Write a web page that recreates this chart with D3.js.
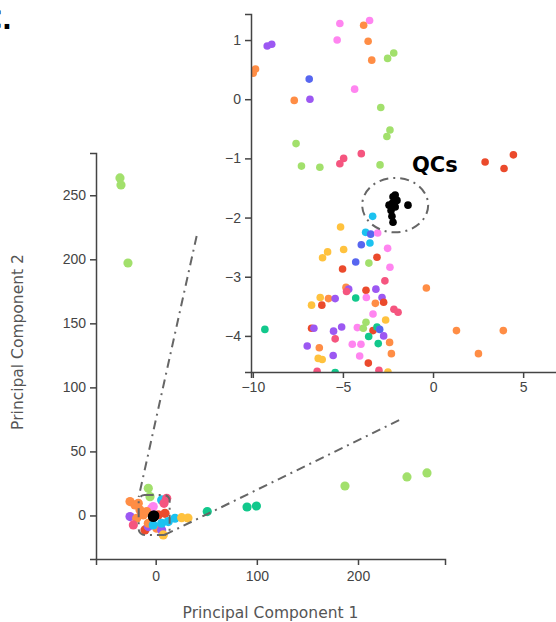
<!DOCTYPE html>
<html>
<head>
<meta charset="utf-8">
<script src="https://cdn.jsdelivr.net/npm/d3@7"></script>
<style>
  html, body { margin: 0; padding: 0; background: #fff; }
  svg { display: block; font-family: "DejaVu Sans", Verdana, sans-serif; }
  .axis path, .axis line { stroke: #444; stroke-width: 1.5; }
  .axis text { fill: #444; font-size: 14px; }
</style>
</head>
<body>
<div id="chart"></div>
<script>
// Group colours (sample groups) + QC
const groupColors = {
    orange: '#ff8d45',
    purple: '#9c58f2',
    pink: '#ff85f0',
    green: '#a2e06c',
    blue: '#5766f0',
    red: '#eb4a2c',
    pinkred: '#f5557f',
    teal: '#12c88c',
    cyan: '#1cc2f0',
    yellow: '#ffc23e',
    qc: '#000000'
};

// Main PCA plot: [PC1, PC2, group]
const mainPoints = [
    [-35.3, 263.5, 'green'], [-34.3, 258.0, 'green'], [-27.4, 197.1, 'green'],
    [-7.3, 21.2, 'green'], [-5.6, 14.7, 'green'],
    [-25.4, 10.8, 'orange'], [-20.5, 8.2, 'orange'], [-17.2, 9.5, 'orange'],
    [5.9, 12.1, 'cyan'], [10.9, 13.4, 'pinkred'], [8.2, 9.5, 'pinkred'],
    [-4.0, 5.6, 'pink'], [-2.4, 6.9, 'pink'],
    [-25.4, -0.9, 'purple'], [-15.5, 4.3, 'orange'], [-12.3, 0.4, 'orange'],
    [-18.8, -2.2, 'orange'], [-8.9, 3.0, 'orange'], [2.6, 0.4, 'red'], [9.2, 1.7, 'red'],
    [-22.1, -7.4, 'pinkred'], [-10.6, -11.3, 'red'], [-7.3, -8.7, 'purple'],
    [-7.3, -6.1, 'orange'], [1.0, -10.0, 'orange'], [5.9, -11.3, 'purple'],
    [-2.4, -7.4, 'cyan'], [5.9, -6.1, 'cyan'], [12.5, -4.8, 'cyan'], [19.1, -2.2, 'cyan'],
    [25.7, -1.7, 'yellow'], [31.9, -2.0, 'yellow'], [7.5, -15.2, 'yellow'],
    [51.0, 3.0, 'teal'], [90.3, 6.6, 'teal'], [99.6, 7.4, 'teal'],
    [187.1, 23.0, 'green'], [248.4, 30.1, 'green'], [268.2, 33.2, 'green']
];
const mainQC = [[-2.4, -0.9], [-1.8, -0.2]];

// Zoomed inset: [PC1, PC2, group]
const insetPoints = [
    [-9.98, 0.44, 'orange'], [-9.85, 0.51, 'orange'], [-9.2, 0.9, 'purple'], [-8.95, 0.93, 'purple'],
    [-5.17, 1.28, 'pink'], [-3.52, 1.33, 'pink'], [-3.85, 1.25, 'orange'], [-5.32, 1.0, 'pink'],
    [-3.6, 0.98, 'orange'], [-3.4, 0.66, 'orange'], [-2.52, 0.69, 'green'], [-2.18, 0.78, 'green'],
    [-6.87, 0.34, 'blue'], [-6.83, 0.0, 'purple'], [-7.7, -0.02, 'orange'], [-4.35, 0.17, 'pink'],
    [-2.9, -0.14, 'green'], [-2.39, -0.52, 'green'], [-2.56, -0.63, 'green'], [-7.6, -0.75, 'green'],
    [-7.3, -1.13, 'green'], [-6.28, -1.15, 'green'], [-4.96, -1.0, 'pinkred'], [-5.17, -1.09, 'pinkred'],
    [-3.98, -0.92, 'pinkred'], [-2.94, -1.11, 'green'],
    [2.89, -1.06, 'red'], [3.94, -1.17, 'red'], [4.46, -0.94, 'red'],
    [-3.35, -1.98, 'cyan'], [-5.13, -2.16, 'yellow'], [-3.74, -2.25, 'cyan'], [-3.5, -2.43, 'cyan'],
    [-3.46, -2.28, 'blue'], [-3.07, -2.26, 'pink'], [-3.98, -2.46, 'blue'], [-2.52, -2.52, 'pink'],
    [-4.96, -2.54, 'yellow'], [-5.85, -2.58, 'yellow'], [-6.13, -2.68, 'yellow'], [-4.29, -2.75, 'blue'],
    [-3.56, -2.77, 'green'], [-3.11, -2.67, 'red'], [-2.39, -2.84, 'pink'], [-5.02, -2.87, 'red'],
    [-2.67, -3.07, 'pinkred'], [-4.83, -3.18, 'orange'], [-4.68, -3.21, 'purple'], [-4.8, -3.25, 'pinkred'],
    [-3.72, -3.23, 'red'], [-3.17, -3.21, 'purple'], [-0.37, -3.19, 'orange'],
    [-6.26, -3.35, 'yellow'], [-5.8, -3.37, 'orange'], [-5.43, -3.37, 'purple'], [-4.29, -3.36, 'teal'],
    [-3.7, -3.35, 'pink'], [-2.83, -3.35, 'purple'], [-2.74, -3.43, 'red'], [-3.2, -3.45, 'orange'],
    [-6.74, -3.48, 'yellow'], [-6.17, -3.48, 'red'], [-3.33, -3.63, 'pink'],
    [-2.17, -3.55, 'pinkred'], [-1.94, -3.6, 'pinkred'], [-3.72, -3.77, 'green'], [-2.63, -3.73, 'yellow'],
    [-6.74, -3.87, 'red'], [-6.61, -3.87, 'purple'], [-9.33, -3.89, 'teal'], [-5.52, -3.92, 'purple'],
    [-5.07, -3.85, 'purple'], [-4.2, -3.86, 'pink'], [-3.87, -3.87, 'green'], [-3.33, -3.91, 'red'],
    [-3.11, -3.85, 'teal'], [-2.96, -3.89, 'blue'], [1.3, -3.91, 'orange'], [3.9, -3.91, 'orange'],
    [-2.74, -4.0, 'purple'], [-3.57, -4.01, 'teal'], [-5.43, -4.05, 'pinkred'], [-6.98, -4.17, 'purple'],
    [-6.31, -4.2, 'orange'], [-4.48, -4.14, 'pink'], [-4.0, -4.14, 'pink'], [-3.04, -4.13, 'teal'],
    [-2.41, -4.11, 'orange'], [-2.31, -4.3, 'orange'], [2.52, -4.3, 'orange'], [-5.54, -4.33, 'purple'],
    [-6.37, -4.38, 'yellow'], [-6.15, -4.4, 'yellow'], [-4.07, -4.34, 'pink'], [-3.59, -4.46, 'red'],
    [-6.43, -4.6, 'pinkred'], [-5.43, -4.62, 'teal'], [-3.0, -4.58, 'pinkred'], [-2.5, -4.61, 'yellow']
];
const insetQC = [
    [-2.1, -1.62], [-2.0, -1.71], [-2.22, -1.65], [-2.26, -1.76], [-2.44, -1.79], [-2.1, -1.82],
    [-2.33, -1.88], [-2.28, -1.98], [-2.22, -2.08], [-1.39, -1.79]
];

// Ticks
const mainXTicks = [0, 100, 200];
const mainYTicks = [0, 50, 100, 150, 200, 250];
const insetXTicks = [-10, -5, 0, 5];
const insetYTicks = [-4, -3, -2, -1, 0, 1];

// Zoom call-out path (main data units) and QC ellipse (inset data units)
const calloutLeft = [[40.5, 218.2], [-16.8, 14.4]];
const calloutBox = [[-16.8, 16.0], [13.8, -15.2]];
const calloutRight = [[8.9, -15.2], [241.2, 74.6]];
const qcEllipse = { cx: -2.1, cy: -1.79, rx: 1.83, ry: 0.46 };

const W = 556, H = 622;
const svg = d3.select('#chart').append('svg').attr('width', W).attr('height', H);
const intFmt = d3.format('d');

// Panel label (cut at left edge, as in the figure)
svg.append('text')
    .attr('x', 12).attr('y', 29)
    .attr('text-anchor', 'end')
    .style('font-size', '26px').style('font-weight', 'bold').style('fill', '#000')
    .text('C.');

// ---------- Main plot ----------
const x = d3.scaleLinear().domain([-59, 286]).range([96, 445]);
const y = d3.scaleLinear().domain([-34, 283]).range([559, 153]);

svg.append('g')
    .attr('class', 'axis')
    .attr('transform', `translate(0,${y.range()[0]})`)
    .call(d3.axisBottom(x).tickValues(mainXTicks).tickFormat(intFmt).tickSizeOuter(0).tickSize(6).tickPadding(6));

svg.append('g')
    .attr('class', 'axis')
    .attr('transform', `translate(${x.range()[0]},0)`)
    .call(d3.axisLeft(y).tickValues(mainYTicks).tickFormat(intFmt).tickSizeOuter(0).tickSize(6).tickPadding(4));

svg.append('text')
    .attr('x', (x.range()[0] + x.range()[1]) / 2).attr('y', 618)
    .attr('text-anchor', 'middle')
    .style('font-size', '15.5px').style('fill', '#555')
    .text('Principal Component 1');

svg.append('text')
    .attr('transform', `translate(23,${(y.range()[0] + y.range()[1]) / 2 - 14}) rotate(-90)`)
    .attr('text-anchor', 'middle')
    .style('font-size', '15.5px').style('fill', '#555')
    .text('Principal Component 2');

svg.append('g').selectAll('circle')
    .data(mainPoints)
    .join('circle')
    .attr('cx', d => x(d[0]))
    .attr('cy', d => y(d[1]))
    .attr('r', 4.6)
    .attr('fill', d => groupColors[d[2]]);

const dashStyle = sel => sel
    .attr('fill', 'none')
    .attr('stroke', '#666')
    .attr('stroke-width', 2)
    .attr('stroke-dasharray', '9,5,2,5');

const lineGen = d3.line().x(d => x(d[0])).y(d => y(d[1]));
svg.append('path').attr('d', lineGen(calloutLeft)).call(dashStyle);
svg.append('path').attr('d', lineGen(calloutRight)).call(dashStyle);
svg.append('rect')
    .attr('x', x(calloutBox[0][0])).attr('y', y(calloutBox[0][1]))
    .attr('width', x(calloutBox[1][0]) - x(calloutBox[0][0]))
    .attr('height', y(calloutBox[1][1]) - y(calloutBox[0][1]))
    .attr('rx', 6)
    .call(dashStyle);

svg.append('g').selectAll('circle')
    .data(mainQC)
    .join('circle')
    .attr('cx', d => x(d[0]))
    .attr('cy', d => y(d[1]))
    .attr('r', 5.5)
    .attr('fill', groupColors.qc);

// ---------- Inset (zoom on the cluster) ----------
const xi = d3.scaleLinear().domain([-10.1, 7.6]).range([251, 570]);
const yi = d3.scaleLinear().domain([-4.61, 1.44]).range([372, 14]);

svg.append('rect')
    .attr('x', 222).attr('y', 0).attr('width', W - 222).attr('height', 400)
    .attr('fill', '#fff');

svg.append('clipPath').attr('id', 'inset-clip')
    .append('rect')
    .attr('x', xi.range()[0]).attr('y', yi.range()[1])
    .attr('width', xi.range()[1] - xi.range()[0])
    .attr('height', yi.range()[0] - yi.range()[1]);

const inset = svg.append('g').attr('clip-path', 'url(#inset-clip)');

inset.selectAll('circle.pt')
    .data(insetPoints)
    .join('circle')
    .attr('class', 'pt')
    .attr('cx', d => xi(d[0]))
    .attr('cy', d => yi(d[1]))
    .attr('r', 3.8)
    .attr('fill', d => groupColors[d[2]]);

inset.append('ellipse')
    .attr('cx', xi(qcEllipse.cx)).attr('cy', yi(qcEllipse.cy))
    .attr('rx', xi(qcEllipse.cx + qcEllipse.rx) - xi(qcEllipse.cx))
    .attr('ry', yi(qcEllipse.cy - qcEllipse.ry) - yi(qcEllipse.cy))
    .call(dashStyle);

inset.selectAll('circle.qc')
    .data(insetQC)
    .join('circle')
    .attr('class', 'qc')
    .attr('cx', d => xi(d[0]))
    .attr('cy', d => yi(d[1]))
    .attr('r', 3.8)
    .attr('fill', groupColors.qc);

svg.append('g')
    .attr('class', 'axis')
    .attr('transform', `translate(0,${yi.range()[0]})`)
    .call(d3.axisBottom(xi).tickValues(insetXTicks).tickFormat(intFmt).tickSizeOuter(0).tickSize(6).tickPadding(4));

svg.append('g')
    .attr('class', 'axis')
    .attr('transform', `translate(${xi.range()[0]},0)`)
    .call(d3.axisLeft(yi).tickValues(insetYTicks).tickFormat(intFmt).tickSizeOuter(0).tickSize(6).tickPadding(4));

svg.append('text')
    .attr('x', 412).attr('y', 172)
    .style('font-size', '21px').style('font-weight', 'bold').style('fill', '#000')
    .text('QCs');
</script>
</body>
</html>
